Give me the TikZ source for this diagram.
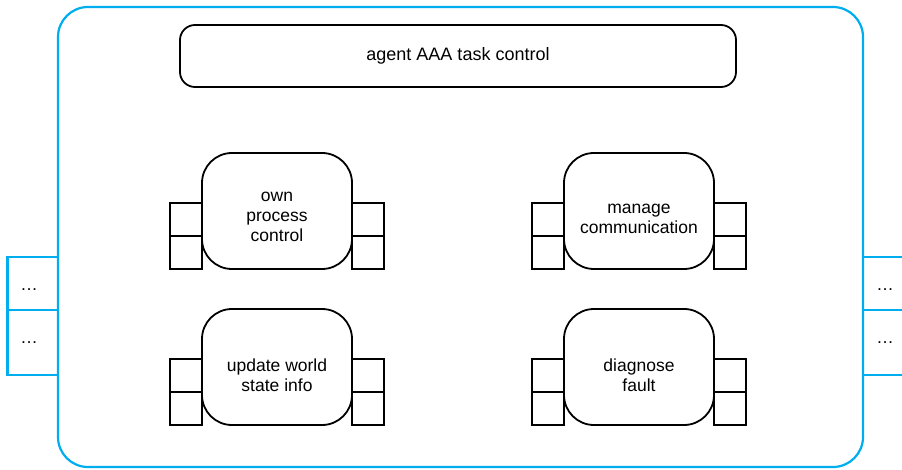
\documentclass[tikz,border=0pt]{standalone}
\usepackage{fontspec}
\setmainfont{Liberation Sans}
\usetikzlibrary{positioning}
\definecolor{agentblue}{RGB}{0,174,239}
\tikzset{
  comp/.style={draw, line width=1.8pt, rounded corners=30pt, minimum width=150pt, minimum height=116pt, inner sep=0pt, outer sep=0pt},
  comptext/.style={align=center, inner sep=0pt},
  port/.style={draw, line width=1.8pt, minimum width=32pt, minimum height=33pt, inner sep=0pt, outer sep=0pt},
  extport/.style={draw=agentblue, line width=2.2pt, minimum width=50.5pt, inner sep=0pt, outer sep=0pt},
}
\begin{document}
\begin{tikzpicture}[x=1pt, y=-1pt, font=\fontsize{17.5}{20}\selectfont]
\useasboundingbox (0,0) rectangle (902,470);
% agent boundary
\node[draw=agentblue, line width=2.2pt, rounded corners=30pt, minimum width=805pt, minimum height=460pt, inner sep=0pt, outer sep=0pt] (agent) at (460.5,237) {};
\node[extport, minimum height=53pt, anchor=north east] (inL1) at ([yshift=-20pt]agent.west) {};
\node[extport, minimum height=65pt, below=0pt of inL1] (inL2) {};
\node[extport, minimum height=53pt, anchor=north west] (outR1) at ([yshift=-20pt]agent.east) {};
\node[extport, minimum height=65pt, below=0pt of outR1] (outR2) {};
\node (inL1-dots) at (29,290) {…};
\node (inL2-dots) at (29,343) {…};
\node (outR1-dots) at (885,290) {…};
\node (outR2-dots) at (885,343) {…};
% task control
\node[draw, line width=1.8pt, rounded corners=15pt, minimum width=556pt, minimum height=62pt, font=\fontsize{18}{20}\selectfont] (task) at (458,56) {\raisebox{-3pt}{agent AAA task control}};
% components
\node[comp] (own) at (277,211) {};
\node[comptext] (own-text) at ([yshift=-6pt]own.center) {own\\process\\control};
\node[port, anchor=south east] (own-l2) at (own.south west) {};
\node[port, above=0pt of own-l2] (own-l1) {};
\node[port, anchor=south west] (own-r2) at (own.south east) {};
\node[port, above=0pt of own-r2] (own-r1) {};

\node[comp] (comm) at (639,211) {};
\node[comptext] (comm-text) at ([yshift=-8pt]comm.center) {manage\\communication};
\node[port, anchor=south east] (comm-l2) at (comm.south west) {};
\node[port, above=0pt of comm-l2] (comm-l1) {};
\node[port, anchor=south west] (comm-r2) at (comm.south east) {};
\node[port, above=0pt of comm-r2] (comm-r1) {};

\node[comp] (world) at (277,367) {};
\node[comptext] (world-text) at ([yshift=-8pt]world.center) {update world\\state info};
\node[port, anchor=south east] (world-l2) at (world.south west) {};
\node[port, above=0pt of world-l2] (world-l1) {};
\node[port, anchor=south west] (world-r2) at (world.south east) {};
\node[port, above=0pt of world-r2] (world-r1) {};

\node[comp] (fault) at (639,367) {};
\node[comptext] (fault-text) at ([yshift=-8pt]fault.center) {diagnose\\fault};
\node[port, anchor=south east] (fault-l2) at (fault.south west) {};
\node[port, above=0pt of fault-l2] (fault-l1) {};
\node[port, anchor=south west] (fault-r2) at (fault.south east) {};
\node[port, above=0pt of fault-r2] (fault-r1) {};
\end{tikzpicture}
\end{document}
